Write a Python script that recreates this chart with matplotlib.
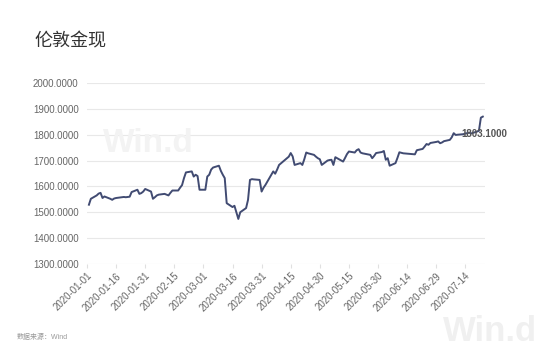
import numpy as np
import pandas as pd
import matplotlib
matplotlib.use("Agg")
import matplotlib.pyplot as plt

plt.rcParams['font.family'] = ['Liberation Sans', 'Noto Sans CJK SC', 'DejaVu Sans']

title = "伦敦金现"
source = "数据来源：Wind"
last_label = 1803.1

dates = [
    "01-02", "01-03", "01-06", "01-07", "01-08", "01-09", "01-10",
    "01-13", "01-14", "01-15", "01-16", "01-17", "01-20", "01-21", "01-22", "01-23", "01-24",
    "01-27", "01-28", "01-29", "01-30", "01-31",
    "02-03", "02-04", "02-05", "02-06", "02-07", "02-10", "02-11", "02-12", "02-13", "02-14",
    "02-17", "02-18", "02-19", "02-20", "02-21", "02-24", "02-25", "02-26", "02-27", "02-28",
    "03-02", "03-03", "03-04", "03-05", "03-06", "03-09", "03-10", "03-11", "03-12", "03-13",
    "03-16", "03-17", "03-18", "03-19", "03-20", "03-23", "03-24", "03-25", "03-26", "03-27",
    "03-30", "03-31", "04-01", "04-02", "04-03", "04-06", "04-07", "04-08", "04-09",
    "04-14", "04-15", "04-16", "04-17", "04-20", "04-21", "04-22", "04-23", "04-24",
    "04-27", "04-28", "04-29", "04-30", "05-01", "05-04", "05-05", "05-06", "05-07", "05-08",
    "05-11", "05-12", "05-13", "05-14", "05-15", "05-18", "05-19", "05-20", "05-21", "05-22",
    "05-26", "05-27", "05-28", "05-29", "06-01", "06-02", "06-03", "06-04", "06-05",
    "06-08", "06-09", "06-10", "06-11", "06-12", "06-15", "06-16", "06-17", "06-18", "06-19",
    "06-22", "06-23", "06-24", "06-25", "06-26", "06-29", "06-30", "07-01", "07-02", "07-03",
    "07-06", "07-07", "07-08", "07-09", "07-10", "07-13", "07-14", "07-15", "07-16", "07-17",
    "07-20", "07-21", "07-22", "07-23",
]
prices = [
    1529, 1552, 1565, 1572, 1575, 1555, 1561,
    1552, 1548, 1553, 1555, 1556, 1559, 1558, 1559, 1560, 1578,
    1587, 1571, 1574, 1580, 1590,
    1580, 1552, 1558, 1565, 1568, 1571, 1568, 1565, 1575, 1584,
    1584, 1595, 1605, 1632, 1654, 1658, 1638, 1645, 1640, 1587,
    1587, 1638, 1645, 1665, 1673, 1680, 1660, 1645, 1632, 1535,
    1520, 1525, 1500, 1474, 1500, 1516, 1548, 1625, 1628, 1627,
    1625, 1580, 1595, 1606, 1619, 1658, 1649, 1665, 1683,
    1715, 1729, 1716, 1683, 1690, 1683, 1705, 1731, 1728,
    1722, 1715, 1709, 1705, 1683, 1700, 1702, 1703, 1683, 1713,
    1700, 1696, 1710, 1725, 1735, 1731, 1740, 1744, 1731, 1728,
    1722, 1709, 1718, 1729, 1733, 1737, 1703, 1709, 1680,
    1690, 1710, 1732, 1730, 1728, 1726, 1725, 1725, 1724, 1740,
    1745, 1754, 1764, 1761, 1768, 1772, 1774, 1767, 1770, 1775,
    1780, 1790, 1806, 1799, 1800, 1802, 1805, 1806, 1808, 1805,
    1812, 1815, 1866, 1870,
]
tick_dates = ["2020-01-01", "2020-01-16", "2020-01-31", "2020-02-15", "2020-03-01",
              "2020-03-16", "2020-03-31", "2020-04-15", "2020-04-30", "2020-05-15",
              "2020-05-30", "2020-06-14", "2020-06-29", "2020-07-14"]
y_ticks = [1300, 1400, 1500, 1600, 1700, 1800, 1900, 2000]

x = pd.to_datetime(["2020-" + d for d in dates])
ticks = pd.to_datetime(tick_dates)

fig = plt.figure(figsize=(5.54, 3.61), dpi=100)
ax = fig.add_axes([0.157, 0.269, 0.718, 0.501])

ax.plot(x, prices, color="#414b72", lw=1.4, zorder=3)

ax.set_ylim(1300, 2000)
ax.set_yticks(y_ticks)
ax.set_yticklabels([f"{v:.4f}" for v in y_ticks])
ax.set_xlim(pd.Timestamp("2020-01-01"), pd.Timestamp("2020-07-24"))
ax.set_xticks(ticks)
ax.set_xticklabels(tick_dates, rotation=45, ha="right", rotation_mode="anchor")

ax.grid(axis="y", color="#e8e8e8", lw=0.8)
ax.set_axisbelow(True)
for s in ax.spines.values():
    s.set_visible(False)
ax.tick_params(axis="y", length=0, labelsize=7, labelcolor="#666666", pad=6)
ax.tick_params(axis="x", length=3, color="#e0e0e0", labelsize=7, labelcolor="#666666", pad=2)

ax.text(pd.Timestamp("2020-07-12"), last_label, f"{last_label:.4f}", fontsize=7,
        fontweight="bold", color="#555555", va="center", ha="left", zorder=4)

# watermarks
ax.text(0.04, 0.62, "Win.d", transform=ax.transAxes, fontsize=24, fontweight="bold",
        color="#f3f3f3", zorder=1)
fig.text(0.80, 0.055, "Win.d", fontsize=25, fontweight="bold", color="#f0f0f0")

fig.text(0.063, 0.87, title, fontsize=13, color="#333333")
fig.text(0.03, 0.062, source, fontsize=5, color="#999999")

fig.savefig("out.png", dpi=100)
